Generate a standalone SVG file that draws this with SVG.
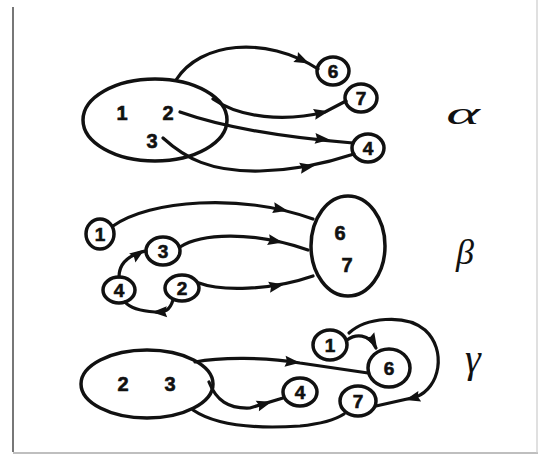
<svg xmlns="http://www.w3.org/2000/svg" xmlns:xlink="http://www.w3.org/1999/xlink" width="539" height="458" viewBox="0 0 539 458">
  <style>
    .node { fill: none; stroke: #111; stroke-width: 3.5; }
    .edge { fill: none; stroke: #111; stroke-width: 3.2; stroke-linecap: round; }
    .lbl { font-family: "Liberation Sans", Arial, sans-serif; font-weight: bold; font-size: 19px; fill: #111; stroke: #111; stroke-width: 0.6; text-anchor: middle; }
    .big { font-size: 20px; }
    .greek { font-family: "Liberation Serif", serif; font-style: italic; fill: #111; text-anchor: middle; }
    .head { fill: #111; }
  </style>
  <defs>
    <!-- filled arrowhead, tip at +x -->
    <path id="ah" class="head" d="M8,0 L-7,-5.5 L-5,0 L-7,5.5 z"/>
  </defs>

  <rect x="0" y="0" width="539" height="458" fill="#fff"/>

  <!-- frame -->
  <g id="frame" fill="none">
    <line x1="13" y1="7" x2="13" y2="452" stroke="#555" stroke-width="1.6"/>
    <line x1="13" y1="453" x2="538" y2="453" stroke="#aaa" stroke-width="1.5"/>
    <line x1="537" y1="0" x2="537" y2="453" stroke="#ccc" stroke-width="1.2"/>
  </g>

  <!-- connectors -->
  <g id="connectors">
    <!-- alpha -->
    <path class="edge" d="M176,80 C200,42 265,35 318,69"/>
    <use xlink:href="#ah" transform="translate(302,60) rotate(25)"/>
    <path class="edge" d="M213,99 C240,118 285,122 325,112 L346,101"/>
    <use xlink:href="#ah" transform="translate(321,113) rotate(-12)"/>
    <path class="edge" d="M180,112 C225,128 280,137 353,143"/>
    <use xlink:href="#ah" transform="translate(322,139) rotate(5)"/>
    <path class="edge" d="M163,138 C185,158 210,172 260,171 C300,170 330,162 354,154"/>
    <use xlink:href="#ah" transform="translate(307,167) rotate(-10)"/>

    <!-- beta -->
    <path class="edge" d="M113,226 C150,200 240,193 313,219"/>
    <use xlink:href="#ah" transform="translate(280,209) rotate(12)"/>
    <path class="edge" d="M180,247 C200,234 250,230 308,250"/>
    <use xlink:href="#ah" transform="translate(275,241) rotate(11)"/>
    <path class="edge" d="M199,283 C220,291 270,291 313,276"/>
    <use xlink:href="#ah" transform="translate(276,286) rotate(-10)"/>
    <path class="edge" d="M119,277 C119,264 128,255 146,251"/>
    <use xlink:href="#ah" transform="translate(138,254) rotate(-35)"/>
    <path class="edge" d="M173,300 C170,310 165,313 155,312 C140,311 130,308 125,302"/>
    <use xlink:href="#ah" transform="translate(160,312) rotate(178)"/>

    <!-- gamma -->
    <path class="edge" d="M195,362 C220,357 265,357 300,363 L368,373"/>
    <use xlink:href="#ah" transform="translate(292,362) rotate(6)"/>
    <path class="edge" d="M209,382 C216,400 228,409 250,408 L283,398"/>
    <use xlink:href="#ah" transform="translate(264,404) rotate(-17)"/>
    <path class="edge" d="M193,410 C215,425 255,429 300,426 C320,424 335,420 344,414"/>
    <path class="edge" d="M347,340 C355,334 369,333 376,348"/>
    <use xlink:href="#ah" transform="translate(373,341) rotate(60)"/>
    <path class="edge" d="M349,333 C365,318 405,313 425,330 C447,350 440,388 416,397 L376,406"/>
    <use xlink:href="#ah" transform="translate(413,398) rotate(165)"/>
  </g>

  <!-- alpha group -->
  <g id="a-src">
    <ellipse class="node" cx="155" cy="120" rx="72" ry="41"/>
    <text class="lbl big" x="122" y="120">1</text>
    <text class="lbl big" x="168" y="120">2</text>
    <text class="lbl big" x="152" y="148">3</text>
  </g>
  <g id="a-6"><ellipse class="node" cx="333" cy="71" rx="16" ry="14"/><text class="lbl" x="333" y="78">6</text></g>
  <g id="a-7"><ellipse class="node" cx="361" cy="98" rx="16" ry="14"/><text class="lbl" x="361" y="105">7</text></g>
  <g id="a-4"><ellipse class="node" cx="368" cy="148" rx="16" ry="14"/><text class="lbl" x="368" y="155">4</text></g>
  <g id="a-label"><text class="greek" font-size="40" transform="translate(463,124) scale(1.6,0.8)">α</text></g>

  <!-- beta group -->
  <g id="b-dst">
    <ellipse class="node" cx="348" cy="246" rx="37" ry="50"/>
    <text class="lbl big" x="340" y="240">6</text>
    <text class="lbl big" x="347" y="272">7</text>
  </g>
  <g id="b-1"><ellipse class="node" cx="100" cy="234" rx="14" ry="15"/><text class="lbl" x="100" y="241">1</text></g>
  <g id="b-3"><ellipse class="node" cx="163" cy="251" rx="17" ry="14"/><text class="lbl" x="163" y="258">3</text></g>
  <g id="b-4"><ellipse class="node" cx="119" cy="290" rx="16" ry="13"/><text class="lbl" x="119" y="297">4</text></g>
  <g id="b-2"><ellipse class="node" cx="182" cy="288" rx="17" ry="13"/><text class="lbl" x="182" y="295">2</text></g>
  <g id="b-label"><text class="greek" font-size="36" x="465" y="264">β</text></g>

  <!-- gamma group -->
  <g id="g-src">
    <ellipse class="node" cx="147" cy="384" rx="66" ry="34"/>
    <text class="lbl big" x="123" y="391">2</text>
    <text class="lbl big" x="170" y="391">3</text>
  </g>
  <g id="g-1"><ellipse class="node" cx="330" cy="345" rx="17" ry="15"/><text class="lbl" x="330" y="352">1</text></g>
  <g id="g-6"><ellipse class="node" cx="389" cy="368" rx="21" ry="19"/><text class="lbl" x="389" y="375">6</text></g>
  <g id="g-7"><ellipse class="node" cx="358" cy="401" rx="18" ry="15"/><text class="lbl" x="358" y="408">7</text></g>
  <g id="g-4"><ellipse class="node" cx="300" cy="392" rx="17" ry="14"/><text class="lbl" x="300" y="399">4</text></g>
  <g id="g-label"><text class="greek" font-size="40" x="473" y="372">γ</text></g>
</svg>
